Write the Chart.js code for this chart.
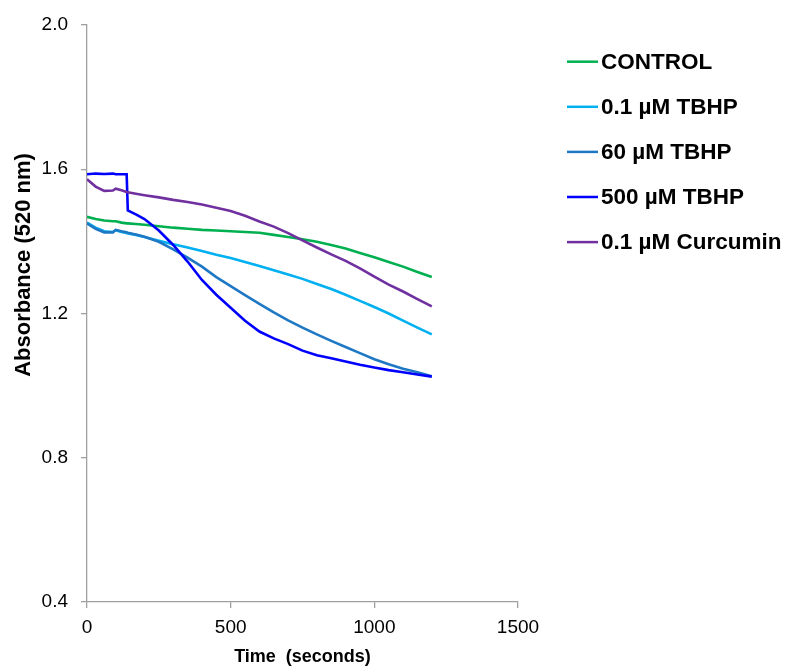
<!DOCTYPE html>
<html>
<head>
<meta charset="utf-8">
<script src="https://cdn.jsdelivr.net/npm/chart.js@4/dist/chart.umd.min.js"></script>
<style>
  html, body { margin: 0; padding: 0; background: #fff; }
  #wrap { width: 790px; height: 669px; position: relative; }
</style>
</head>
<body>
<div id="wrap"><canvas id="c" width="790" height="669"></canvas></div>
<script>
const times = [0, 30, 60, 90, 100, 120, 138, 142, 170, 200, 250, 300, 350, 400, 450, 500, 550, 600, 650, 700, 750, 800, 850, 900, 950, 1000, 1050, 1100, 1150, 1200];

const control = [1.468, 1.462, 1.458, 1.456, 1.456, 1.452, 1.450, 1.450, 1.448, 1.446, 1.442, 1.438, 1.435, 1.432, 1.430, 1.428, 1.426, 1.424, 1.418, 1.412, 1.406, 1.399, 1.390, 1.380, 1.368, 1.356, 1.343, 1.330, 1.315, 1.301];
const tbhp01 = [1.452, 1.438, 1.428, 1.426, 1.431, 1.426, 1.423, 1.422, 1.418, 1.412, 1.402, 1.392, 1.383, 1.373, 1.363, 1.354, 1.343, 1.332, 1.320, 1.308, 1.296, 1.282, 1.268, 1.252, 1.235, 1.218, 1.200, 1.180, 1.161, 1.142];
const tbhp60 = [1.450, 1.435, 1.425, 1.425, 1.432, 1.428, 1.425, 1.424, 1.419, 1.413, 1.399, 1.378, 1.355, 1.330, 1.301, 1.276, 1.251, 1.227, 1.203, 1.181, 1.161, 1.142, 1.124, 1.107, 1.090, 1.073, 1.059, 1.047, 1.037, 1.026];
const tbhp500 = [1.586, 1.588, 1.587, 1.588, 1.586, 1.586, 1.586, 1.486, 1.475, 1.462, 1.430, 1.390, 1.344, 1.293, 1.252, 1.216, 1.180, 1.150, 1.131, 1.115, 1.097, 1.084, 1.076, 1.067, 1.058, 1.050, 1.043, 1.037, 1.031, 1.025];
const curcumin = [1.572, 1.552, 1.540, 1.541, 1.546, 1.542, 1.537, 1.536, 1.532, 1.528, 1.522, 1.515, 1.509, 1.502, 1.493, 1.484, 1.471, 1.455, 1.441, 1.423, 1.403, 1.383, 1.364, 1.346, 1.325, 1.302, 1.280, 1.261, 1.240, 1.220];

const seriesLabels = ['CONTROL', '0.1 \u00B5M TBHP', '60 \u00B5M TBHP', '500 \u00B5M TBHP', '0.1 \u00B5M Curcumin'];
const seriesValues = [control, tbhp01, tbhp60, tbhp500, curcumin];
const seriesColors = ['#00B050', '#00B0F0', '#1F78C4', '#0000FF', '#7030A0'];

const xTicks = [0, 500, 1000, 1500];
const yTicks = [0.4, 0.8, 1.2, 1.6, 2.0];

const xTitle = 'Time  (seconds)';
const yTitle = 'Absorbance (520 nm)';

const datasets = seriesLabels.map((lab, i) => ({
  label: lab,
  data: times.map((t, j) => ({ x: t, y: seriesValues[i][j] })),
  borderColor: seriesColors[i],
  backgroundColor: seriesColors[i],
  borderWidth: 2.6,
  pointRadius: 0,
  tension: 0,
  fill: false,
  order: seriesLabels.length - i
}));

const customLegend = {
  id: 'customLegend',
  afterDraw(chart) {
    const ctx = chart.ctx;
    ctx.save();
    seriesLabels.forEach((lab, i) => {
      const y = 61.7 + i * 45.1;
      ctx.strokeStyle = seriesColors[i];
      ctx.lineWidth = 2.5;
      ctx.beginPath();
      ctx.moveTo(567, y);
      ctx.lineTo(598, y);
      ctx.stroke();
      ctx.fillStyle = '#000';
      ctx.font = 'bold 22.5px "Liberation Sans", Arial, sans-serif';
      ctx.textAlign = 'left';
      ctx.textBaseline = 'middle';
      ctx.fillText(lab, 601, y + 1);
    });
    ctx.restore();
  }
};

const yTitlePlugin = {
  id: 'yTitlePlugin',
  afterDraw(chart) {
    const ctx = chart.ctx;
    ctx.save();
    ctx.translate(24, 265);
    ctx.rotate(-Math.PI / 2);
    ctx.fillStyle = '#000';
    ctx.font = 'bold 22px "Liberation Sans", Arial, sans-serif';
    ctx.textAlign = 'center';
    ctx.textBaseline = 'middle';
    ctx.fillText(yTitle, 0, 0);
    ctx.restore();
  }
};

new Chart(document.getElementById('c'), {
  type: 'line',
  data: { datasets },
  options: {
    responsive: false,
    animation: false,
    layout: { padding: { top: 25, right: 272, left: 0, bottom: 0 } },
    plugins: {
      legend: { display: false },
      tooltip: { enabled: false },
      title: { display: false }
    },
    scales: {
      x: {
        type: 'linear',
        min: 0, max: 1500,
        afterBuildTicks: s => { s.ticks = xTicks.map(v => ({ value: v })); },
        afterFit: s => { s.height = 67; },
        grid: { drawOnChartArea: false, drawTicks: true, tickLength: 6, color: '#A0A0A0', lineWidth: 1.3 },
        border: { color: '#A0A0A0', width: 1.3 },
        ticks: {
          color: '#000',
          font: { family: '"Liberation Sans", Arial, sans-serif', size: 19 },
          padding: 8,
          maxRotation: 0,
          callback: v => String(v)
        },
        title: {
          display: true,
          text: xTitle,
          color: '#000',
          font: { family: '"Liberation Sans", Arial, sans-serif', size: 18, weight: 'bold' },
          padding: { top: 0, bottom: 1 }
        }
      },
      y: {
        type: 'linear',
        min: 0.4, max: 2.0,
        afterBuildTicks: s => { s.ticks = yTicks.map(v => ({ value: v })); },
        afterFit: s => { s.width = 87; },
        grid: { drawOnChartArea: false, drawTicks: true, tickLength: 6, color: '#A0A0A0', lineWidth: 1.3 },
        border: { color: '#A0A0A0', width: 1.3 },
        ticks: {
          color: '#000',
          font: { family: '"Liberation Sans", Arial, sans-serif', size: 19 },
          padding: 13,
          callback: v => Number(v).toFixed(1)
        }
      }
    }
  },
  plugins: [customLegend, yTitlePlugin]
});
</script>
</body>
</html>
